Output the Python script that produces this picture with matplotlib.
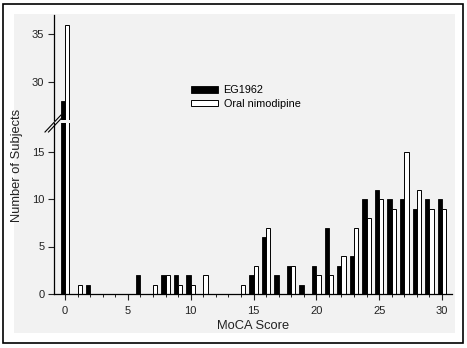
import numpy as np
import matplotlib.pyplot as plt
from matplotlib.patches import Rectangle
from matplotlib.lines import Line2D

plt.rcParams['font.family'] = ['Liberation Sans', 'DejaVu Sans']

# MoCA score distribution per treatment arm
scores = list(range(0, 31))
eg1962 = [28, 0, 1, 0, 0, 0, 2, 0, 2, 2, 2, 0, 0, 0, 0, 2,
          6, 2, 3, 1, 3, 7, 3, 4, 10, 11, 10, 10, 9, 10, 10]
nimodipine = [36, 1, 0, 0, 0, 0, 0, 1, 2, 1, 1, 2, 0, 0, 1, 3,
              7, 0, 3, 0, 2, 2, 4, 7, 8, 10, 9, 15, 11, 9, 9]
series_names = ['EG1962', 'Oral nimodipine']

W, H = 467, 348
fig = plt.figure(figsize=(W / 100, H / 100), dpi=100, facecolor='white')


def px(x, y):
    return x / W, 1 - y / H


# outer frame and grey panel, kept behind the axes
fig.patches.append(Rectangle((3 / W, 1 - 343 / H), 460 / W, 339 / H,
                             transform=fig.transFigure, fill=False,
                             edgecolor='black', lw=1.2, zorder=-10))
fig.patches.append(Rectangle((14 / W, 1 - 333 / H), 441 / W, 319 / H,
                             transform=fig.transFigure, facecolor='#f2f2f2',
                             edgecolor='none', zorder=-10))

left, width = 54 / W, 398 / W
ax_lo = fig.add_axes([left, (H - 294) / H, width, 171 / H])
ax_hi = fig.add_axes([left, (H - 120) / H, width, 105 / H])

x = np.array(scores)
bw = 0.34
for ax in (ax_lo, ax_hi):
    ax.set_facecolor('none')
    ax.bar(x - bw / 2, eg1962, bw, color='black', edgecolor='black', lw=0.6,
           label=series_names[0])
    ax.bar(x + bw / 2, nimodipine, bw, color='white', edgecolor='black', lw=0.7,
           label=series_names[1])
    ax.set_xlim(-0.88, 30.8)
    for s in ('top', 'right'):
        ax.spines[s].set_visible(False)
    ax.spines['left'].set_linewidth(0.9)
    ax.spines['bottom'].set_linewidth(0.9)
    ax.tick_params(labelsize=8, colors='#222222', direction='out')

ax_lo.set_ylim(0, 18)
ax_lo.set_yticks([0, 5, 10, 15])
ax_lo.set_xticks([0, 5, 10, 15, 20, 25, 30])
ax_lo.set_xticks(range(0, 31), minor=True)
ax_lo.tick_params(axis='x', which='major', length=4, pad=5)
ax_lo.tick_params(axis='x', which='minor', length=2.5)
ax_lo.tick_params(axis='y', length=4, pad=3)

ax_hi.set_ylim(26, 37)
ax_hi.set_yticks([30, 35])
ax_hi.spines['bottom'].set_visible(False)
ax_hi.tick_params(axis='x', bottom=False, labelbottom=False)
ax_hi.tick_params(axis='y', length=4, pad=3)

# break marks on the y axis
for dx in (0, 3.5):
    x0, y0 = px(45 + dx, 132)
    x1, y1 = px(61 + dx, 115)
    fig.lines.append(Line2D([x0, x1], [y0, y1], transform=fig.transFigure,
                            color='black', lw=0.8))

ax_hi.legend(loc='upper left', bbox_to_anchor=px(191, 85),
             bbox_transform=fig.transFigure, frameon=False, fontsize=7.8,
             handlelength=2.5, handleheight=0.6, handletextpad=0.5,
             labelspacing=0.35, borderpad=0, borderaxespad=0)

fig.text(*px(17, 165), 'Number of Subjects', rotation=90, ha='center',
         va='center', fontsize=9.3, color='#222222')
fig.text(*px(253, 326), 'MoCA Score', ha='center', va='center',
         fontsize=9.3, color='#222222')

fig.savefig('out.png', dpi=100, facecolor='white')
